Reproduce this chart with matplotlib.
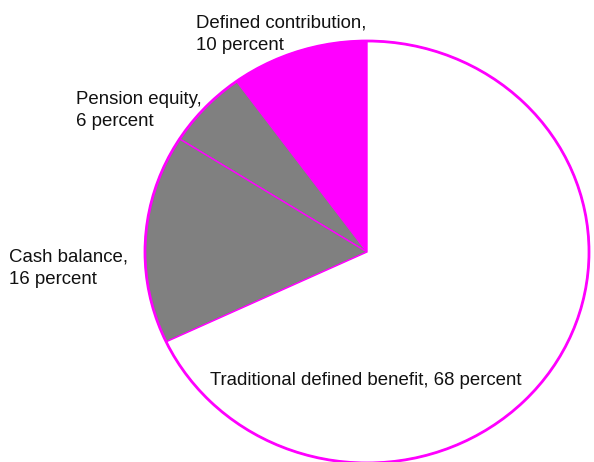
import matplotlib.pyplot as plt
from matplotlib.patches import Circle

plt.rcParams['font.family'] = ['Liberation Sans', 'DejaVu Sans']

# Plan types and their shares (percent)
categories = ['Defined contribution', 'Pension equity', 'Cash balance',
              'Traditional defined benefit']
shares = [10, 6, 16, 68]
colors = ['#ff00ff', '#808080', '#808080', '#ffffff']
labels = ['Defined contribution,\n10 percent', 'Pension equity,\n6 percent',
          'Cash balance,\n16 percent', 'Traditional defined benefit, 68 percent']

W, H = 594, 462
fig = plt.figure(figsize=(W / 100, H / 100), dpi=100)

# pie is slightly wider than tall in the reference
cx, cy, rx, ry = 367, 252, 222, 211
ax = fig.add_axes([(cx - rx) / W, (H - cy - ry) / H, 2 * rx / W, 2 * ry / H])

ax.pie(shares, colors=colors, startangle=90, counterclock=True,
       wedgeprops={'edgecolor': '#ff00ff', 'linewidth': 1})
ax.set_aspect('auto')
ax.set_xlim(-1, 1)
ax.set_ylim(-1, 1)
ax.add_patch(Circle((0, 0), 1, fill=False, edgecolor='#ff00ff', lw=2, clip_on=False))
ax.axis('off')

# label positions in pixels (left, top)
label_pos = [(196, 15), (76, 91), (9, 249), (210, 372)]
for lab, (x, y) in zip(labels, label_pos):
    fig.text(x / W, 1 - y / H, lab, ha='left', va='top', fontsize=13.4,
             color='#111111', linespacing=1.35)

fig.savefig('out.png', dpi=100)
